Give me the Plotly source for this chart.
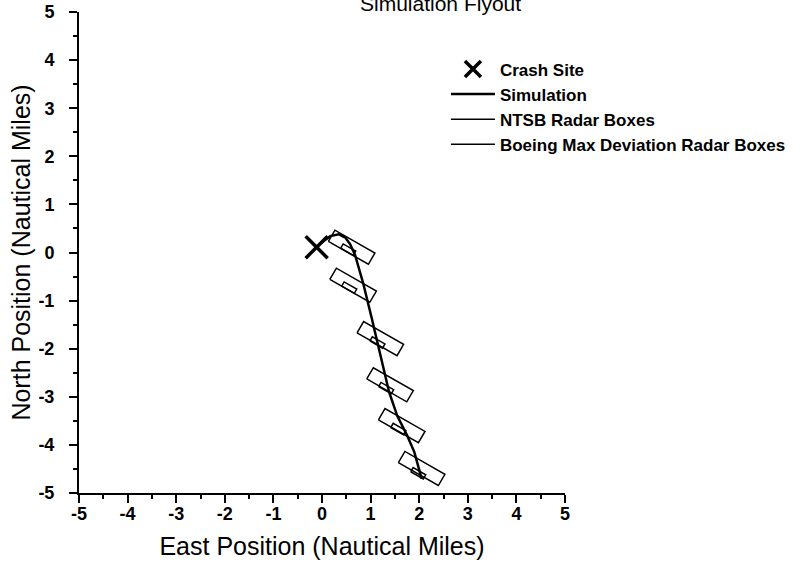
import numpy as np
import plotly.graph_objects as go

# --- data (nautical miles) ---
crash_east = [-0.11]
crash_north = [0.11]

sim_east = [2.05, 1.90, 1.75, 1.55, 1.38, 1.20, 1.02, 0.85, 0.68, 0.58, 0.48, 0.34, 0.17, -0.02]
sim_north = [-4.70, -4.15, -3.80, -3.40, -2.90, -2.10, -1.35, -0.65, -0.05, 0.17, 0.31, 0.38, 0.34, 0.20]

# radar box centres
ntsb_east = [0.54, 0.56, 1.14, 1.32, 1.57, 1.98]
ntsb_north = [0.06, -0.73, -1.87, -2.82, -3.67, -4.59]
boeing_east = [0.61, 0.64, 1.20, 1.40, 1.64, 2.05]
boeing_north = [0.11, -0.68, -1.79, -2.75, -3.60, -4.49]

# box dimensions (along-track length, cross width) and orientation
ntsb_size = [0.30, 0.10]
boeing_size = [0.95, 0.27]
box_angle_deg = -30

tick_vals = [-5, -4, -3, -2, -1, 0, 1, 2, 3, 4, 5]
tick_text = ["-5", "-4", "-3", "-2", "-1", "0", "1", "2", "3", "4", "5"]

FONT = "Liberation Sans, Arial, sans-serif"


def box_outline(east, north, size, angle_deg):
    """Return x/y lists tracing rotated rectangles, separated by None."""
    a = np.radians(angle_deg)
    ux, uy = np.cos(a), np.sin(a)
    vx, vy = -np.sin(a), np.cos(a)
    hl, hw = size[0] / 2, size[1] / 2
    xs, ys = [], []
    for cx, cy in zip(east, north):
        for sl, sw in [(-1, -1), (1, -1), (1, 1), (-1, 1), (-1, -1)]:
            xs.append(cx + sl * hl * ux + sw * hw * vx)
            ys.append(cy + sl * hl * uy + sw * hw * vy)
        xs.append(None)
        ys.append(None)
    return xs, ys


bx, by = box_outline(boeing_east, boeing_north, boeing_size, box_angle_deg)
nx, ny = box_outline(ntsb_east, ntsb_north, ntsb_size, box_angle_deg)

fig = go.Figure()
fig.add_trace(go.Scatter(
    x=bx, y=by, mode="lines", name="Boeing Max Deviation Radar Boxes",
    line=dict(color="black", width=1.5), legendrank=4, legendgroup="d",
))
fig.add_trace(go.Scatter(
    x=nx, y=ny, mode="lines", name="NTSB Radar Boxes",
    line=dict(color="black", width=1.5), legendrank=3, legendgroup="c",
))
fig.add_trace(go.Scatter(
    x=sim_east, y=sim_north, mode="lines", name="Simulation",
    line=dict(color="black", width=2.5), legendrank=2, legendgroup="b",
))
fig.add_trace(go.Scatter(
    x=crash_east, y=crash_north, mode="markers", name="Crash Site",
    marker=dict(symbol="x-thin", size=22, line=dict(color="black", width=3.5)),
    legendrank=1, legendgroup="a",
))

axis_common = dict(
    range=[-5, 5], tickvals=tick_vals, ticktext=tick_text, automargin=False,
    showline=True, linecolor="black", linewidth=2,
    ticks="outside", ticklen=8, tickwidth=2, tickcolor="black",
    minor=dict(dtick=0.5, ticks="outside", ticklen=4, tickwidth=2, tickcolor="black"),
    showgrid=False, zeroline=False, ticklabeloverflow="allow",
    tickfont=dict(family=FONT, size=18, color="black", weight="bold"),
)

fig.update_layout(
    width=803, height=564,
    margin=dict(l=79, r=236, t=12, b=71),
    paper_bgcolor="white", plot_bgcolor="white",
    xaxis=dict(axis_common, ticklabelstandoff=-5,
               title=dict(text="East Position (Nautical Miles)",
                          font=dict(family=FONT, size=25, color="black"))),
    yaxis=dict(axis_common, ticklabelstandoff=11,
               title=dict(text="North Position (Nautical Miles)", standoff=1,
                          font=dict(family=FONT, size=25, color="black"))),
    showlegend=True,
    legend=dict(
        x=0.755, y=0.918, xanchor="left", yanchor="top",
        font=dict(family=FONT, size=17, color="black", weight="bold"),
        itemwidth=44, tracegroupgap=0, traceorder="grouped",
        bgcolor="rgba(0,0,0,0)",
    ),
    # title sits partly above the top edge, as in the scanned original
    annotations=[dict(
        text="Simulation Flyout", xref="paper", yref="paper",
        x=0.744, y=1, xanchor="center", yanchor="bottom", yshift=-5,
        showarrow=False, font=dict(family=FONT, size=21, color="black"),
    )],
)

# drop the browser's default body margin so the figure fills the window
fig.write_html("out.html", config={"displayModeBar": False},
               post_script="document.body.style.margin = '0';")
